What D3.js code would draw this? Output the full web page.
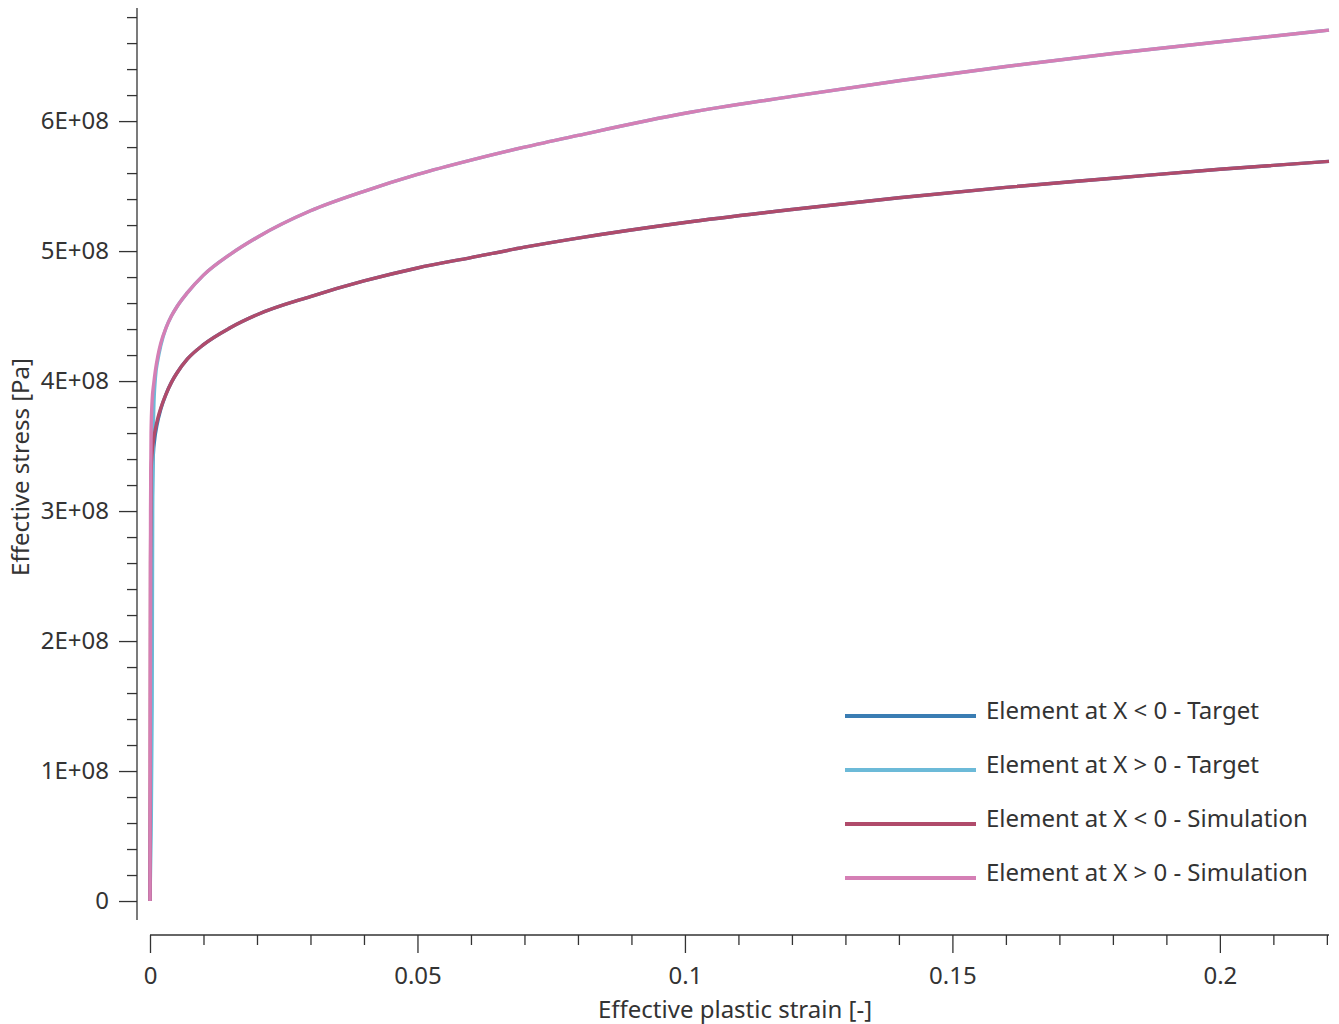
<!DOCTYPE html>
<html><head><meta charset="utf-8">
<script src="https://cdn.jsdelivr.net/npm/d3@7"></script>
<style>body{margin:0;background:#fff;} text{font-family:"Segoe UI","Noto Sans","Open Sans",sans-serif;fill:#333;}</style>
</head><body><svg id="c" width="1339" height="1024"></svg>
<script>
// strain values (-) and stress values (Pa)
const simLowStrain  = [0, 0.0001, 0.0002, 0.0004, 0.0007, 0.001, 0.0015, 0.002, 0.003, 0.004, 0.005, 0.007, 0.01, 0.015, 0.02, 0.03, 0.04, 0.05, 0.06, 0.07, 0.08, 0.1, 0.12, 0.14, 0.16, 0.18, 0.2, 0.2204];
const simLowStress  = [0, 2.6e8, 3.3e8, 3.45e8, 3.56e8, 3.63e8, 3.72e8, 3.79e8, 3.9e8, 3.99e8, 4.06e8, 4.17e8, 4.28e8, 4.41e8, 4.51e8, 4.65e8, 4.77e8, 4.87e8, 4.95e8, 5.03e8, 5.1e8, 5.22e8, 5.32e8, 5.41e8, 5.49e8, 5.56e8, 5.63e8, 5.69e8];
const simHighStrain = [0, 0.0001, 0.0002, 0.0004, 0.0007, 0.001, 0.0015, 0.002, 0.003, 0.004, 0.005, 0.007, 0.01, 0.015, 0.02, 0.03, 0.04, 0.05, 0.06, 0.07, 0.08, 0.1, 0.12, 0.14, 0.16, 0.18, 0.2, 0.2204];
const simHighStress = [0, 3.0e8, 3.6e8, 3.85e8, 3.98e8, 4.08e8, 4.2e8, 4.29e8, 4.41e8, 4.5e8, 4.57e8, 4.68e8, 4.815e8, 4.975e8, 5.105e8, 5.31e8, 5.46e8, 5.59e8, 5.7e8, 5.8e8, 5.89e8, 6.06e8, 6.19e8, 6.31e8, 6.42e8, 6.52e8, 6.61e8, 6.7e8];
const tgtLowStrain  = [0, 0.0002, 0.0004, 0.0006, 0.0009, 0.0013, 0.002, 0.003, 0.004, 0.005, 0.007, 0.01, 0.015, 0.02, 0.03, 0.04, 0.05, 0.06, 0.07, 0.08, 0.1, 0.12, 0.14, 0.16, 0.18, 0.2, 0.2204];
const tgtLowStress  = [0, 1.5e8, 3.0e8, 3.42e8, 3.56e8, 3.66e8, 3.78e8, 3.9e8, 3.99e8, 4.06e8, 4.17e8, 4.28e8, 4.41e8, 4.51e8, 4.65e8, 4.77e8, 4.87e8, 4.95e8, 5.03e8, 5.1e8, 5.22e8, 5.32e8, 5.41e8, 5.49e8, 5.56e8, 5.63e8, 5.69e8];
const tgtHighStrain = [0, 0.0002, 0.0004, 0.0005, 0.0007, 0.001, 0.0015, 0.002, 0.003, 0.004, 0.005, 0.007, 0.01, 0.015, 0.02, 0.03, 0.04, 0.05, 0.06, 0.07, 0.08, 0.1, 0.12, 0.14, 0.16, 0.18, 0.2, 0.2204];
const tgtHighStress = [0, 0.5e8, 1.5e8, 3.0e8, 3.78e8, 4.02e8, 4.17e8, 4.27e8, 4.41e8, 4.5e8, 4.57e8, 4.68e8, 4.815e8, 4.975e8, 5.105e8, 5.31e8, 5.46e8, 5.59e8, 5.7e8, 5.8e8, 5.89e8, 6.06e8, 6.19e8, 6.31e8, 6.42e8, 6.52e8, 6.61e8, 6.7e8];

const seriesNames  = ["Element at X < 0 - Target", "Element at X > 0 - Target", "Element at X < 0 - Simulation", "Element at X > 0 - Simulation"];
const seriesColors = ["#3a7db3", "#6cbad8", "#b04b6b", "#d57fb5"];

const xMajorTicks = [0, 0.05, 0.1, 0.15, 0.2];
const xTickLabels = ["0", "0.05", "0.1", "0.15", "0.2"];
const yMajorTicks = [0, 1e8, 2e8, 3e8, 4e8, 5e8, 6e8];
const yTickLabels = ["0", "1E+08", "2E+08", "3E+08", "4E+08", "5E+08", "6E+08"];

const series = [
  [tgtLowStrain, tgtLowStress],
  [tgtHighStrain, tgtHighStress],
  [simLowStrain, simLowStress],
  [simHighStrain, simHighStress]
].map((s, i) => ({name: seriesNames[i], color: seriesColors[i], pts: s[0].map((x, j) => [x, s[1][j]])}));

const svg = d3.select("#c");
const x = d3.scaleLinear().domain([0, 0.2204]).range([150, 1329]);
const y = d3.scaleLinear().domain([-0.146e8, 6.87e8]).range([920, 8]);

const xMinor = d3.range(0, 23).map(i => i / 100).filter(v => v <= 0.2204 && !xMajorTicks.some(m => Math.abs(m - v) < 1e-9));
const yMinor = d3.range(0, 35).map(i => i * 2e7).filter(v => v <= 6.87e8 && !yMajorTicks.some(m => Math.abs(m - v) < 1));

const FS = 24;
// Y axis
const gy = svg.append("g").attr("transform", "translate(137,0)");
gy.append("g").call(d3.axisLeft(y).tickValues(yMinor).tickSize(10).tickFormat(""))
  .call(g => g.select(".domain").remove());
gy.append("g").call(d3.axisLeft(y).tickValues(yMajorTicks).tickSize(18).tickPadding(10)
  .tickFormat((d, i) => yTickLabels[i]))
  .call(g => g.select(".domain").remove());
gy.append("line").attr("x1", 0).attr("x2", 0).attr("y1", y.range()[1]).attr("y2", y.range()[0]);
gy.selectAll("line").attr("stroke", "#333").attr("stroke-width", 1.3);
gy.selectAll("text").attr("font-size", FS).style("fill", "#333");

// X axis
const gx = svg.append("g").attr("transform", "translate(0,935)");
gx.append("g").call(d3.axisBottom(x).tickValues(xMinor).tickSize(10).tickFormat(""))
  .call(g => g.select(".domain").remove());
gx.append("g").call(d3.axisBottom(x).tickValues(xMajorTicks).tickSize(18).tickPadding(14)
  .tickFormat((d, i) => xTickLabels[i]))
  .call(g => g.select(".domain").remove());
gx.append("line").attr("x1", x.range()[0]).attr("x2", x.range()[1]).attr("y1", 0).attr("y2", 0);
gx.selectAll("line").attr("stroke", "#333").attr("stroke-width", 1.3);
gx.selectAll("text").attr("font-size", FS).style("fill", "#333");

// Axis titles
svg.append("text").attr("x", 735).attr("y", 1018).attr("text-anchor", "middle")
  .attr("font-size", FS).text("Effective plastic strain [-]");
svg.append("text").attr("transform", "translate(29,467) rotate(-90)").attr("text-anchor", "middle")
  .attr("font-size", FS).text("Effective stress [Pa]");

// Lines
const line = d3.line().x(d => x(d[0])).y(d => y(d[1])).curve(d3.curveMonotoneX);
svg.append("g").selectAll("path").data(series).join("path")
  .attr("d", d => line(d.pts)).attr("fill", "none")
  .attr("stroke", d => d.color).attr("stroke-width", 3.4).attr("stroke-linejoin", "round");

// Legend
const lg = svg.append("g").selectAll("g").data(series).join("g")
  .attr("transform", (d, i) => `translate(845,${716 + i * 54})`);
lg.append("line").attr("x1", 0).attr("x2", 131).attr("y1", 0).attr("y2", 0)
  .attr("stroke", d => d.color).attr("stroke-width", 4);
lg.append("text").attr("x", 141).attr("y", 3).attr("font-size", FS).text(d => d.name);
</script></body></html>
